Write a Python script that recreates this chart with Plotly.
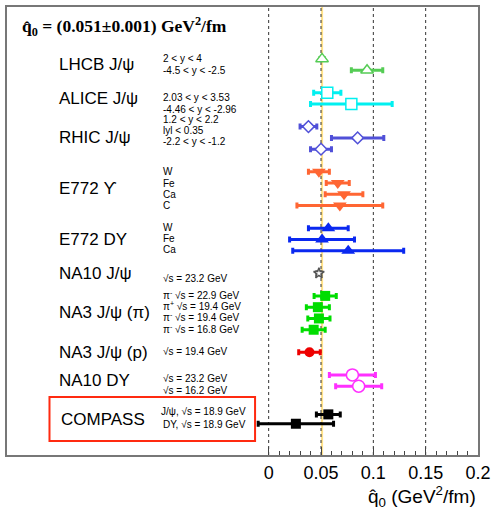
import plotly.graph_objects as go

# Extracted transport coefficient q0 (GeV^2/fm) per data set
experiments = ["LHCB J/ψ", "ALICE J/ψ", "RHIC J/ψ", "E772 ϒ", "E772 DY",
               "NA10 J/ψ", "NA3 J/ψ (π)", "NA3 J/ψ (p)", "NA10 DY", "COMPASS"]
conditions = [
    ["2 < y < 4", "-4.5 < y < -2.5"],
    ["2.03 < y < 3.53", "-4.46 < y < -2.96"],
    ["1.2 < y < 2.2", "lyl < 0.35", "-2.2 < y < -1.2"],
    ["W", "Fe", "Ca", "C"],
    ["W", "Fe", "Ca"],
    ["√s = 23.2 GeV"],
    ["π<sup>-</sup> √s = 22.9 GeV", "π<sup>+</sup> √s = 19.4 GeV",
     "π<sup>-</sup> √s = 19.4 GeV", "π<sup>-</sup> √s = 16.8 GeV"],
    ["√s = 19.4 GeV"],
    ["√s = 23.2 GeV", "√s = 16.2 GeV"],
    ["J/ψ, √s = 18.9 GeV", "DY, √s = 18.9 GeV"],
]
q0_values = [
    [0.051, 0.094],
    [0.056, 0.079],
    [0.038, 0.085, 0.050],
    [0.048, 0.066, 0.072, 0.068],
    [0.057, 0.051, 0.076],
    [0.048],
    [0.054, 0.047, 0.048, 0.043],
    [0.039],
    [0.080, 0.086],
    [0.057, 0.026],
]
q0_errors = [
    [0.002, 0.015],
    [0.013, 0.039],
    [0.008, 0.025, 0.010],
    [0.010, 0.011, 0.018, 0.041],
    [0.019, 0.031, 0.053],
    [0.002],
    [0.0106, 0.011, 0.0106, 0.011],
    [0.0103],
    [0.022, 0.022],
    [0.0114, 0.036],
]
global_fit = 0.051
global_fit_err = 0.001
x_ticks = [0, 0.05, 0.1, 0.15, 0.2]

# Marker styles: (symbol, colour, open)
styles = [
    ("triangle-up", "#55cc55", True),
    ("square", "#00f0f0", True),
    ("diamond", "#5050d8", True),
    ("triangle-down", "#ff6633", False),
    ("triangle-up", "#0a28f0", False),
    ("star", "#555555", True),
    ("square", "#00dd00", False),
    ("circle", "#ee0000", False),
    ("circle", "#ff30ff", True),
    ("square", "#000000", False),
]
sizes = [11, 11, 9, 12, 12, 8, 10, 10, 12, 10]
# Vertical shift of the condition labels relative to their rows
label_shift = [0, 0.45, -0.65, 0, -0.1, 0.45, -0.1, -0.1, 0.35, -0.25]
label_step = [1, 1, 1, 1, 1, 1, 1, 1, 1, 1.15]

# Row placement: one empty row between data sets, COMPASS set a bit apart
rows = []
last = -2.0
for g, vals in enumerate(q0_values):
    start = last + (2.5 if experiments[g] == "COMPASS" else 2.0)
    step = 0.83 if experiments[g] == "COMPASS" else 1.0
    rows.append([start + k * step for k in range(len(vals))])
    last = rows[-1][-1]

fig = go.Figure()

for g, name in enumerate(experiments):
    sym, col, hollow = styles[g]
    fig.add_trace(go.Scatter(
        x=q0_values[g], y=rows[g], mode="markers", name=name,
        marker=dict(symbol=sym, size=sizes[g],
                    color="white" if hollow else col,
                    line=dict(color=col, width=1.5 if hollow else 0)),
        error_x=dict(type="data", array=q0_errors[g], color=col,
                     thickness=3, width=3),
        showlegend=False,
    ))

shapes = [
    dict(type="rect", xref="x", yref="paper",
         x0=global_fit - global_fit_err, x1=global_fit + global_fit_err,
         y0=0, y1=1, fillcolor="rgba(255,210,80,0.65)", line_width=0,
         layer="below"),
]
for xv in x_ticks[:-1]:
    shapes.append(dict(type="line", xref="x", yref="paper", x0=xv, x1=xv,
                       y0=0, y1=1, line=dict(color="#333", width=1,
                                             dash="3px,3px"),
                       layer="below"))
# box highlighting the COMPASS entry
shapes.append(dict(type="rect", xref="x", yref="y",
                   x0=-0.2094, x1=-0.013, y0=29.95, y1=33.85,
                   line=dict(color="#ff2a10", width=2)))

annotations = [
    dict(text="<b>q̂<sub>0</sub> = (0.051±0.001) GeV<sup>2</sup>/fm</b>",
         xref="paper", yref="paper", x=0.027, y=0.956,
         xanchor="left", yanchor="middle", showarrow=False,
         font=dict(family="Liberation Serif", size=17.5, color="black")),
    dict(text="q̂<sub>0</sub> (GeV<sup>2</sup>/fm)", xref="paper", yref="paper",
         x=1.0, y=-0.093, xanchor="right", yanchor="middle", showarrow=False,
         font=dict(family="Liberation Sans", size=19, color="black")),
]
for g, name in enumerate(experiments):
    compass = name == "COMPASS"
    annotations.append(dict(
        text=name, xref="x", yref="y",
        x=-0.2 if compass else -0.2018, y=sum(rows[g]) / len(rows[g]),
        xanchor="left", yanchor="middle", showarrow=False,
        font=dict(family="Liberation Sans", size=17, color="black")))
    for k, txt in enumerate(conditions[g]):
        annotations.append(dict(
            text=txt, xref="x", yref="y",
            x=-0.0197 if compass else -0.1025,
            y=rows[g][0] + k * label_step[g] + label_shift[g],
            xanchor="right" if compass else "left", yanchor="middle",
            showarrow=False,
            font=dict(family="Liberation Sans", size=10, color="black")))

fig.update_layout(
    width=496, height=516,
    margin=dict(l=7, r=14, t=5, b=61),
    paper_bgcolor="white", plot_bgcolor="white",
    shapes=shapes, annotations=annotations,
    xaxis=dict(range=[-0.25, 0.2], tickvals=x_ticks,
               ticktext=["0", "0.05", "0.1", "0.15", "0.2"],
               ticks="inside", ticklen=8, tickcolor="#444",
               minor=dict(tickvals=[i / 100 for i in range(1, 20) if i % 5],
                          ticks="inside", ticklen=4, tickcolor="#444"),
               showgrid=False, zeroline=False, showline=True, mirror=True,
               linecolor="#777", linewidth=2,
               tickfont=dict(family="Liberation Sans", size=18, color="black")),
    yaxis=dict(range=[35.1, -4.6], showticklabels=False, ticks="",
               showgrid=False, zeroline=False, showline=True, mirror=True,
               linecolor="#777", linewidth=2),
)

fig.write_html("out.html")
